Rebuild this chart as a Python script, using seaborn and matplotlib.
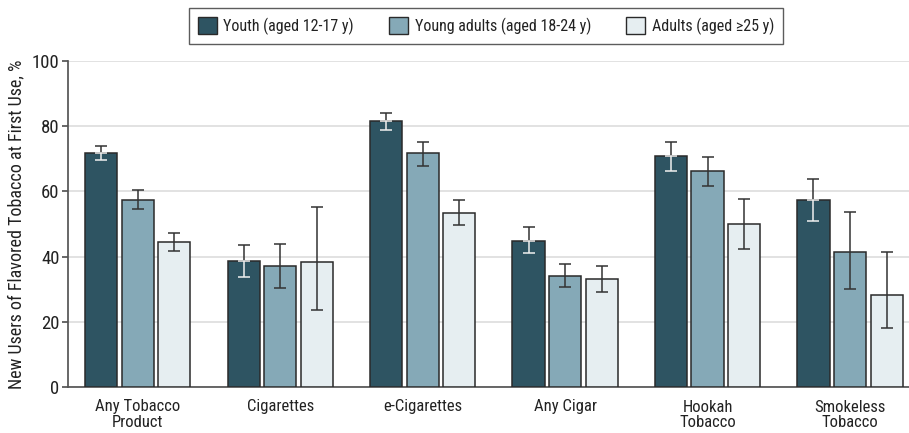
import numpy as np
import pandas as pd
import matplotlib
matplotlib.use("Agg")
import matplotlib.pyplot as plt
import seaborn as sns
from matplotlib import font_manager

categories = ["Any Tobacco\nProduct", "Cigarettes", "e-Cigarettes", "Any Cigar",
              "Hookah\nTobacco", "Smokeless\nTobacco"]
groups = ["Youth (aged 12-17 y)", "Young adults (aged 18-24 y)", "Adults (aged \u226525 y)"]

youth = [71.8, 38.6, 81.7, 44.9, 70.8, 57.5]
youth_lo = [69.6, 33.7, 78.9, 41.1, 66.2, 50.9]
youth_hi = [73.9, 43.7, 84.2, 49.2, 75.2, 63.9]

young = [57.5, 37.0, 71.7, 34.0, 66.3, 41.5]
young_lo = [54.7, 30.5, 67.9, 30.6, 61.6, 30.1]
young_hi = [60.3, 44.0, 75.3, 37.6, 70.6, 53.7]

adults = [44.5, 38.2, 53.5, 33.0, 50.0, 28.3]
adults_lo = [41.8, 23.6, 49.7, 29.1, 42.3, 18.2]
adults_hi = [47.3, 55.2, 57.4, 37.2, 57.8, 41.3]

colors = ["#2e5462", "#85a9b7", "#e6eef1"]

sns.set_theme(style="white")
names = {f.name for f in font_manager.fontManager.ttflist}
fam = ['DejaVu Sans']
for cand in ['Liberation Sans Narrow', 'Roboto Condensed', 'Open Sans Condensed', 'DejaVu Sans Condensed']:
    if cand in names:
        fam = [cand, 'DejaVu Sans']
        break
plt.rcParams['font.family'] = fam
plt.rcParams['font.stretch'] = 'condensed'

df = pd.DataFrame({
    "category": categories * 3,
    "group": [groups[0]] * 6 + [groups[1]] * 6 + [groups[2]] * 6,
    "value": youth + young + adults,
})

fig = plt.figure(figsize=(9.09, 4.33), dpi=100)
ax = fig.add_axes([68 / 909, 1 - 387 / 433, 1 - 68 / 909, (387 - 61) / 433])

sns.barplot(data=df, x="category", y="value", hue="group", order=categories,
            hue_order=groups, palette=colors, saturation=1, width=0.77, gap=0.12,
            edgecolor="#2a2a2a", linewidth=1.1, errorbar=None, ax=ax, legend=True, zorder=3)

vals = [youth, young, adults]
los = [youth_lo, young_lo, adults_lo]
his = [youth_hi, young_hi, adults_hi]
bar_containers = list(ax.containers)
for gi, cont in enumerate(bar_containers):
    for ci, patch in enumerate(cont.patches):
        xc = patch.get_x() + patch.get_width() / 2
        v, lo, hi = vals[gi][ci], los[gi][ci], his[gi][ci]
        if gi == 0:
            ax.errorbar([xc], [v], yerr=[[0], [hi - v]], fmt="none", ecolor="#333333",
                        elinewidth=1.1, capsize=4.5, capthick=1.1, zorder=4)
            ax.errorbar([xc], [v], yerr=[[v - lo], [0]], fmt="none", ecolor="#f0f0f0",
                        elinewidth=1.1, capsize=4.5, capthick=1.1, zorder=4)
        else:
            ax.errorbar([xc], [v], yerr=[[v - lo], [hi - v]], fmt="none", ecolor="#333333",
                        elinewidth=1.1, capsize=4.5, capthick=1.1, zorder=4)

ax.set_ylim(0, 100)
ax.set_xlim(-0.49, 5.414)
ax.set_yticks([0, 20, 40, 60, 80, 100])
ax.yaxis.grid(True, color="#dddddd", linewidth=1.2, zorder=0)
ax.set_axisbelow(True)
for s in ["top", "right"]:
    ax.spines[s].set_visible(False)
ax.spines["left"].set_color("#555555")
ax.spines["bottom"].set_color("#555555")
ax.tick_params(axis="y", which="both", left=True, length=4, color="#555555",
               labelsize=13.5, labelcolor="#222222", pad=2)
ax.tick_params(axis="x", bottom=False, labelsize=12, labelcolor="#222222", pad=3)
for t in ax.get_xticklabels():
    t.set_linespacing(1.05)
ax.set_xlabel("")
ax.set_ylabel("New Users of Flavored Tobacco at First Use, %", fontsize=13, color="#222222", labelpad=5)

ax.get_legend().remove()
handles = [plt.Rectangle((0, 0), 1, 1, facecolor=c, edgecolor="#2a2a2a", linewidth=1) for c in colors]
leg = fig.legend(handles, groups, loc="center", bbox_to_anchor=(486 / 909, 1 - 26 / 433),
                 ncol=3, frameon=True, fontsize=11.5, handlelength=1.2, handleheight=1.3,
                 handletextpad=0.4, columnspacing=2.2, borderpad=0.55, fancybox=False)
leg.get_frame().set_edgecolor("#333333")
leg.get_frame().set_linewidth(1.0)
for t in leg.get_texts():
    t.set_color("#222222")

fig.savefig("out.png", dpi=100)
